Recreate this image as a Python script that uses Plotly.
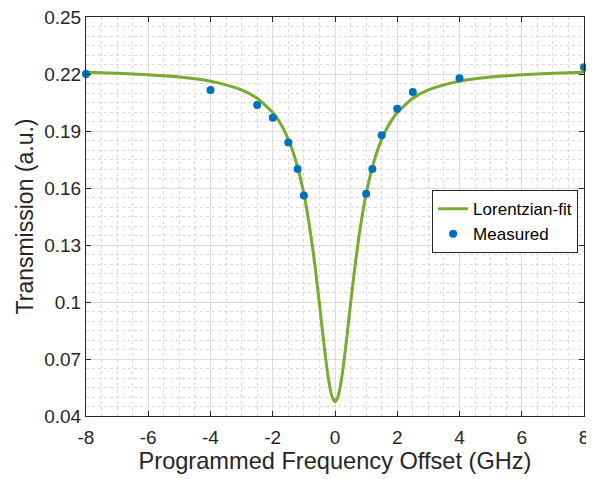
import plotly.graph_objects as go

# Lorentzian fit curve
fit_x = [-8, -7, -6, -5, -4, -3.5, -3, -2.5, -2, -1.8, -1.6, -1.4, -1.2, -1.0, -0.9, -0.8, -0.7,
         -0.6, -0.5, -0.4, -0.3, -0.2, -0.1, 0, 0.1, 0.2, 0.3, 0.4, 0.5, 0.6, 0.7, 0.8, 0.9,
         1.0, 1.2, 1.4, 1.6, 1.8, 2, 2.5, 3, 3.5, 4, 5, 6, 7, 8]
fit_y = [0.2209, 0.2204, 0.2196, 0.2184, 0.2162, 0.2143, 0.2116, 0.2072, 0.1997, 0.1952,
         0.1893, 0.1815, 0.1710, 0.1569, 0.1480, 0.1378, 0.1262, 0.1131, 0.0990, 0.0843,
         0.0703, 0.0584, 0.0504, 0.0475, 0.0504, 0.0584, 0.0703, 0.0843, 0.0990, 0.1131,
         0.1262, 0.1378, 0.1480, 0.1569, 0.1710, 0.1815, 0.1893, 0.1952, 0.1997, 0.2072,
         0.2116, 0.2143, 0.2162, 0.2184, 0.2196, 0.2204, 0.2209]

# Measured points
meas_x = [-8, -4, -2.5, -2, -1.5, -1.2, -1, 1, 1.2, 1.5, 2, 2.5, 4, 8]
meas_y = [0.2200, 0.2116, 0.2037, 0.1970, 0.1840, 0.1700, 0.1560,
          0.1570, 0.1700, 0.1877, 0.2017, 0.2105, 0.2177, 0.2235]

x_ticks = [-8, -6, -4, -2, 0, 2, 4, 6, 8]
x_tick_text = ["-8", "-6", "-4", "-2", "0", "2", "4", "6", "8"]
y_ticks = [0.04, 0.07, 0.10, 0.13, 0.16, 0.19, 0.22, 0.25]
y_tick_text = ["0.04", "0.07", "0.1", "0.13", "0.16", "0.19", "0.22", "0.25"]

FONT = "Liberation Sans, Arial"

fig = go.Figure()
fig.add_trace(go.Scatter(x=fit_x, y=fit_y, mode="lines", name="Lorentzian-fit",
                         line=dict(color="#77AC30", width=3, shape="spline", smoothing=0.6)))
fig.add_trace(go.Scatter(x=meas_x, y=meas_y, mode="markers", name="Measured",
                         marker=dict(color="#0072BD", size=8), cliponaxis=False))

axis_common = dict(
    showline=True, linecolor="#262626", linewidth=1, mirror="ticks",
    ticks="inside", ticklen=5, tickcolor="#262626", automargin=False,
    ticklabeloverflow="allow",
    showgrid=True, gridcolor="#dcdcdc", gridwidth=1, zeroline=False,
    tickfont=dict(family=FONT, size=19, color="#262626"),
)

fig.update_xaxes(range=[-8, 8], tickvals=x_ticks, ticktext=x_tick_text, ticklabelstandoff=4,
                 minor=dict(dtick=0.5, showgrid=True, gridcolor="#dadada", griddash="dot", gridwidth=1),
                 title=dict(text="Programmed Frequency Offset (GHz)", standoff=5,
                            font=dict(family=FONT, size=23.6, color="#262626")),
                 **axis_common)
fig.update_yaxes(range=[0.04, 0.25], tickvals=y_ticks, ticktext=y_tick_text,
                 minor=dict(dtick=0.005, tick0=0.04, showgrid=True, gridcolor="#dadada", griddash="dot", gridwidth=1),
                 title=dict(text="Transmission (a.u.)", standoff=4,
                            font=dict(family=FONT, size=23, color="#262626")),
                 **axis_common)

fig.update_layout(
    width=586, height=471,
    margin=dict(l=78, r=10, t=9, b=63, autoexpand=False),
    paper_bgcolor="white", plot_bgcolor="white",
    showlegend=True,
    legend=dict(x=0.695, y=0.566, xanchor="left", yanchor="top",
                bgcolor="white", bordercolor="#262626", borderwidth=1,
                font=dict(family=FONT, size=17, color="#000000"),
                itemwidth=30, tracegroupgap=0),
    hovermode=False,
)

fig.write_html("out.html")
